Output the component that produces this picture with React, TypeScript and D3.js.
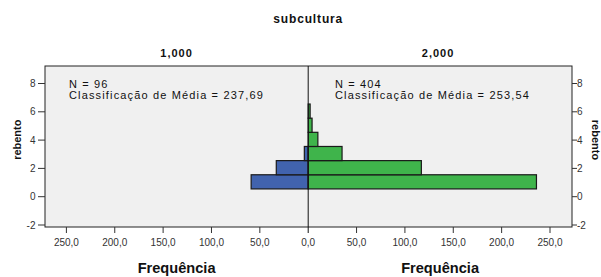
import React from "react";
import * as d3 from "d3";

const panels = ["1,000", "2,000"];
const panelN = [96, 404];
const panelMeanRank = ["237,69", "253,54"];
const binLow = [0.55, 1.55, 2.55, 3.55, 4.55, 5.55];
const binWidth = 1;
const freqLeft = [59, 33, 4, 0, 0, 0];
const freqRight = [236, 117, 35, 10, 4, 2];
const yTicks = [-2, 0, 2, 4, 6, 8];
const xTicks = [0, 50, 100, 150, 200, 250];
const fmt = (v: number) => v.toFixed(1).replace(".", ",");

const W = 601, H = 277;
const frameL = 45, frameR = 572, frameT = 66, frameB = 227;
const cx = 308.2;
const FONT = "'Liberation Sans', Arial, sans-serif";

export default function App() {
  const xR = d3.scaleLinear().domain([0, 250]).range([cx, 550]);
  const xL = d3.scaleLinear().domain([0, 250]).range([cx, 66.4]);
  const y = d3.scaleLinear().domain([-2, 8]).range([225, 83.5]);

  const blue = "#4163ae";
  const green = "#3fb44b";

  return (
    <svg width={W} height={H} style={{ position: "absolute", left: 0, top: 0, background: "#fff" }} fontFamily={FONT}>
      <text x={cx} y={23.3} textAnchor="middle" fontWeight="bold" fontSize={12} letterSpacing={0.85} fill="#111">subcultura</text>
      <text x={(frameL + cx) / 2} y={56.7} textAnchor="middle" fontWeight="bold" fontSize={11} letterSpacing={1} fill="#111">{panels[0]}</text>
      <text x={(cx + frameR) / 2 - 2} y={56.7} textAnchor="middle" fontWeight="bold" fontSize={11} letterSpacing={1} fill="#111">{panels[1]}</text>

      <rect x={frameL} y={frameT} width={frameR - frameL} height={frameB - frameT} fill="#f0f0f0" />

      {binLow.map((b, i) => freqLeft[i] > 0 && (
        <rect key={"l" + i} x={xL(freqLeft[i])} y={y(b + binWidth)} width={xL(0) - xL(freqLeft[i])} height={y(b) - y(b + binWidth)}
          fill={blue} stroke="#1a1a1a" strokeWidth={1.2} />
      ))}
      {binLow.map((b, i) => freqRight[i] > 0 && (
        <rect key={"r" + i} x={xR(0)} y={y(b + binWidth)} width={xR(freqRight[i]) - xR(0)} height={y(b) - y(b + binWidth)}
          fill={green} stroke="#1a1a1a" strokeWidth={1.2} />
      ))}

      <rect x={frameL} y={frameT} width={frameR - frameL} height={frameB - frameT} fill="none" stroke="#222" strokeWidth={1} />
      <line x1={cx} x2={cx} y1={frameT} y2={frameB + 6} stroke="#111" strokeWidth={1} />

      {yTicks.map((t) => (
        <g key={"yt" + t}>
          <line x1={frameL - 7} x2={frameL} y1={y(t)} y2={y(t)} stroke="#333" />
          <text x={35.5} y={y(t) + 3.6} textAnchor="end" fontSize={10} fill="#333">{t}</text>
          <line x1={frameR} x2={frameR + 5} y1={y(t)} y2={y(t)} stroke="#333" />
          <text x={frameR + 5} y={y(t) + 3.6} textAnchor="start" fontSize={10} fill="#333">{t}</text>
        </g>
      ))}

      {xTicks.map((t) => (
        <g key={"xt" + t}>
          {t > 0 && <line x1={xL(t)} x2={xL(t)} y1={frameB} y2={frameB + 6} stroke="#333" />}
          {t > 0 && <text x={xL(t)} y={246} textAnchor="middle" fontSize={10} fill="#333">{fmt(t)}</text>}
          {t > 0 && <line x1={xR(t)} x2={xR(t)} y1={frameB} y2={frameB + 6} stroke="#333" />}
          <text x={xR(t)} y={246} textAnchor="middle" fontSize={10} fill="#333">{fmt(t)}</text>
        </g>
      ))}

      <text x={(frameL + cx) / 2} y={273} textAnchor="middle" fontWeight="bold" fontSize={14.6} fill="#111">Frequência</text>
      <text x={(cx + frameR) / 2} y={273} textAnchor="middle" fontWeight="bold" fontSize={14.6} fill="#111">Frequência</text>

      <text transform={`translate(20.5,139.7) rotate(-90)`} textAnchor="middle" fontWeight="bold" fontSize={11} fill="#111">rebento</text>
      <text transform={`translate(592,140) rotate(90)`} textAnchor="middle" fontWeight="bold" fontSize={11} fill="#111">rebento</text>

      <text x={69} y={87.6} fontSize={11} letterSpacing={1.15} fill="#111">{`N = ${panelN[0]}`}</text>
      <text x={69} y={99.2} fontSize={11} letterSpacing={1.15} fill="#111">{`Classificação de Média = ${panelMeanRank[0]}`}</text>
      <text x={335} y={87.6} fontSize={11} letterSpacing={1.15} fill="#111">{`N = ${panelN[1]}`}</text>
      <text x={335} y={99.2} fontSize={11} letterSpacing={1.15} fill="#111">{`Classificação de Média = ${panelMeanRank[1]}`}</text>
    </svg>
  );
}
